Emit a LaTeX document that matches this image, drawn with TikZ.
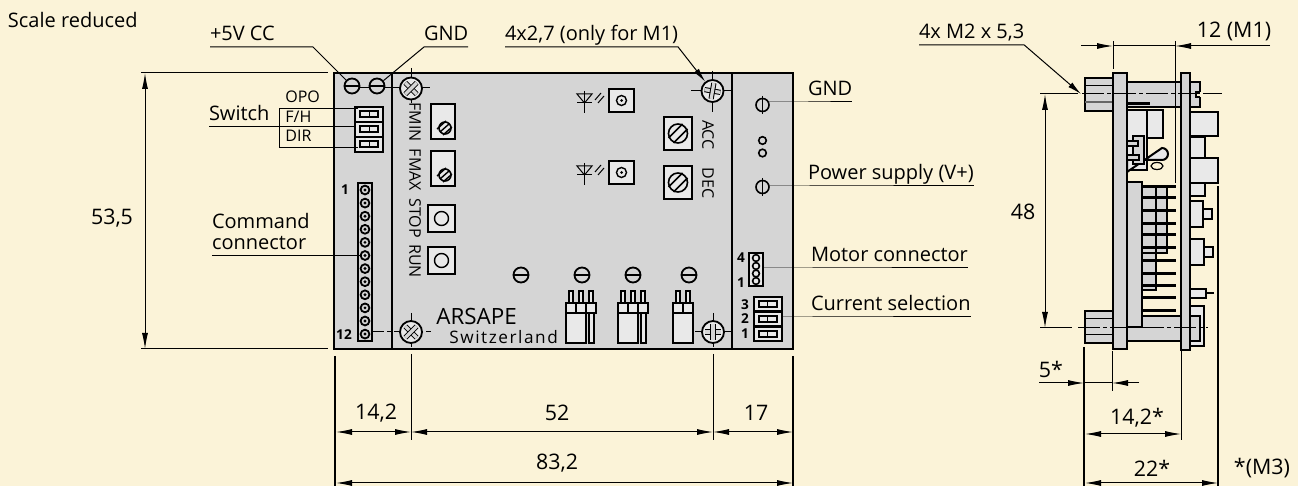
\documentclass[tikz,border=0pt]{standalone}
\usepackage{fontspec}
\setmainfont{Open Sans}
\usepackage{tikz}
\usetikzlibrary{arrows.meta}
\definecolor{paper}{HTML}{FBF3D8}
\definecolor{plate}{HTML}{D5D5D5}
\definecolor{part}{HTML}{E9E9E9}

\begin{document}
\begin{tikzpicture}[
			x=0.5pt, y=-0.5pt,
			outline/.style={draw=black, line width=1pt, line join=miter},
			platepart/.style={outline, fill=plate},
			lightpart/.style={outline, fill=part},
			thinpart/.style={draw=black, line width=0.7pt, fill=part},
			leader/.style={draw=black, line width=0.5pt},
			center/.style={draw=black, line width=0.5pt, dash pattern=on 11pt off 1.5pt on 2pt off 1.5pt},
			dimline/.style={draw=black, line width=0.5pt, {Latex[length=8pt,width=3pt]}-{Latex[length=8pt,width=3pt]}},
			textlabel/.style={inner sep=0pt, outer sep=0pt, anchor=south west, text depth=3pt, font=\fontsize{10}{10.5}\selectfont},
			smalllabel/.style={inner sep=0pt, font=\fontsize{8}{9}\selectfont},
			dimlabel/.style={inner sep=0pt, font=\fontsize{10.7}{12}\selectfont},
			boldlabel/.style={inner sep=0pt, font=\fontsize{6.8}{8}\selectfont\bfseries},
			panellabel/.style={inner sep=0pt, rotate=-90, font=\fontsize{8}{9}\selectfont},
			slotscrew/.style={circle, draw=black, line width=0.9pt, fill=plate, minimum size=7.5pt, inner sep=0pt},
			mountscrew/.style={circle, draw=black, line width=0.9pt, fill=part, minimum size=11pt, inner sep=0pt},
			]
			%Background
				\useasboundingbox (0,0) rectangle (1298,486);
				\fill[paper] (0,0) rectangle (1298,486);

			%Front view: plates
				\path[platepart] (334,73) rectangle (793,349);
				\path[outline] (391.5,73) -- (391.5,349);
				\path[outline] (732,73) -- (732,349);

			%Center lines, front view
				\draw[center] (352,88) -- (430,88);
				\draw[leader] (411,68) -- (411,103);
				\draw[leader] (691,91) -- (733,91);
				\draw[leader] (712.5,71) -- (712.5,112);
				\draw[center] (362,332) -- (431,332);
				\draw[leader] (411,313) -- (411,347);
				\draw[leader] (695,332) -- (733,332);
				\draw[leader] (713,313) -- (713,347);

			%Front view: switch block and connectors
				\foreach \y in {107,122,137}{
					\path[lightpart] (355,\y) rectangle +(28,15);
					\path[thinpart] (360,\y+4) rectangle +(18,6);
					\draw[leader] (369,\y+4) -- +(0,6);
				}
				\path[platepart] (358,183) rectangle (372,341);
				\foreach \n in {0,...,11}{
					\draw[leader, line width=0.9pt] (365,190+\n*13.1) circle [radius=4.4];
					\fill (365,190+\n*13.1) circle [radius=1.6];
				}
				\path[lightpart] (749,253) rectangle (763,286);
				\foreach \y in {258,266,273.5,281}{
					\draw[leader, line width=0.8pt] (756,\y) circle [radius=3.4];
				}
				\foreach \y in {297,312,327}{
					\path[lightpart] (754,\y) rectangle +(28,14.5);
					\path[thinpart] (759,\y+4) rectangle +(18,6);
					\draw[leader] (767,\y+4) -- +(0,6);
				}

			%Front view: trimmers
				\foreach \y in {104,151}{
					\path[lightpart] (431,\y) rectangle +(24,35);
					\filldraw[draw=black, fill=part, line width=0.8pt] (445,\y+24) circle [radius=6];
					\foreach \d in {-3,0,3}{
						\draw[line width=0.7pt] (440+\d,\y+28+\d) -- (449+\d,\y+20+\d);
					}
				}
				\foreach \y in {117,166}{
					\path[lightpart] (664,\y) rectangle +(28,33);
					\filldraw[draw=black, fill=part, line width=0.8pt] (678,\y+16.5) circle [radius=9.5];
					\foreach \d in {-2.5,2.5}{
						\draw[line width=0.8pt] (671+\d,\y+23.5+\d) -- (685+\d,\y+9.5+\d);
					}
				}

			%Front view: push buttons and LEDs
				\foreach \y in {205,247}{
					\path[lightpart] (428,\y) rectangle +(27,27);
					\draw[line width=0.7pt] (441.5,\y+13.5) circle [radius=7];
				}
				\foreach \y in {89,161}{
					\path[lightpart] (609,\y) rectangle +(25,23);
					\draw[line width=0.7pt] (621.5,\y+11.5) circle [radius=5];
					\fill (621.5,\y+11.5) circle [radius=1.5];
					\draw[leader] (577,\y+5) -- (592,\y+5) -- (584.5,\y+14) -- cycle;
					\draw[leader] (577,\y+14) -- (592,\y+14);
					\draw[leader] (584.5,\y+2) -- (584.5,\y+24);
					\draw[leader] (595,\y+11) -- (601,\y+4);
					\draw[leader] (598,\y+14) -- (604,\y+7);
				}

			%Front view: jumpers
				\foreach \x in {566,618}{
					\foreach \s in {3,13,23}{
						\path[thinpart] (\x+\s,291) rectangle +(4,12);
						\path[thinpart] (\x+\s-3,303) rectangle +(10,10);
					}
					\path[lightpart] (\x,313) rectangle +(20,30);
					\path[thinpart] (\x+23,313) rectangle +(5,30);
				}
				\foreach \s in {3,13}{
					\path[thinpart] (673+\s,291) rectangle +(4,12);
					\path[thinpart] (673+\s-3,303) rectangle +(10,10);
				}
				\path[lightpart] (673,313) rectangle +(20,30);

			%Front view: phi symbols
				\draw[line width=0.8pt] (762.5,105) circle [radius=6.5];
				\draw[line width=0.8pt] (762.5,187) circle [radius=6.5];
				\draw[leader] (762.5,96) -- (762.5,114);
				\draw[leader] (762.5,178) -- (762.5,196);
				\draw[line width=0.8pt] (762.5,140.5) circle [radius=3.8];
				\draw[line width=0.8pt] (762.5,153) circle [radius=3.8];

			%Nodes
				\node[textlabel] at (8,34) {Scale reduced};
				\node[textlabel] (vcc-label)	at (210,47)		{+5V CC};
				\node[textlabel] (gnd-label)	at (424,47)		{GND};
				\node[textlabel] (hole-label)	at (505,47)		{4x2,7 (only for M1)};
				\node[textlabel] (switch-label)	at (209,127)	{Switch};
				\node[textlabel, align=left] (cmd-label) at (212,256) {Command\\connector};
				\node[textlabel] (gnd2-label)	at (808,102)	{GND};
				\node[textlabel] (supply-label)	at (808,186)	{Power supply (V+)};
				\node[textlabel] (motor-label)	at (811,268)	{Motor connector};
				\node[textlabel] (select-label)	at (811,317)	{Current selection};
				\node[textlabel] (thread-label)	at (919,45)		{4x M2 x 5,3};

				\node[smalllabel, anchor=west] at (285,97)	{OPO};
				\node[smalllabel, anchor=west] at (285,117)	{F/H};
				\node[smalllabel, anchor=west] at (285,136)	{DIR};

				\node[panellabel] at (415,122)	{FMIN};
				\node[panellabel] at (415,170)	{FMAX};
				\node[panellabel] at (415,218)	{STOP};
				\node[panellabel] at (415,261)	{RUN};
				\node[panellabel] at (708,135)	{ACC};
				\node[panellabel] at (708,183)	{DEC};

				\node[boldlabel] at (345,190)	{1};
				\node[boldlabel] at (344,335)	{12};
				\node[boldlabel] at (741,258)	{4};
				\node[boldlabel] at (741,283)	{1};
				\node[boldlabel] at (745,305)	{3};
				\node[boldlabel] at (745,319)	{2};
				\node[boldlabel] at (745,334)	{1};

				\node[inner sep=0pt, anchor=base west, font=\fontsize{11.2}{12}\selectfont] at (436,325) {ARSAPE};
				\node[inner sep=0pt, anchor=base west, font=\fontsize{8.6}{9}\selectfont\addfontfeature{LetterSpace=9}] at (449,344) {Switzerland};

				\node[dimlabel] at (112,218)	{53,5};
				\node[dimlabel] at (1023,212)	{48};
				\node[dimlabel] at (376,413)	{14,2};
				\node[dimlabel] at (557,413)	{52};
				\node[dimlabel] at (756,413)	{17};
				\node[dimlabel] at (557,463)	{83,2};
				\node[dimlabel] at (1234,31)	{12 (M1)};
				\node[dimlabel] at (1051,369)	{5*};
				\node[dimlabel] at (1137,418)	{14,2*};
				\node[dimlabel] at (1152,468)	{22*};
				\node[dimlabel] at (1262,468)	{*(M3)};

				\foreach \name/\x/\y in {vcc/352/86, gnd/377/86, a/521/275, b/582/275, c/633/275, d/689/275}{
					\node[slotscrew] (\name) at (\x,\y) {};
					\draw[line width=0.8pt] (\name.west) -- (\name.east);
				}
				\node[mountscrew] (screw-tl) at (411,88.5) {};
				\node[mountscrew] (screw-tr) at (712.5,91) {};
				\node[mountscrew] (screw-bl) at (411,332) {};
				\node[mountscrew] (screw-br) at (713,332) {};
				\foreach \name/\a in {screw-tl/45, screw-tr/10, screw-bl/45, screw-br/0}{
					\draw[line width=0.5pt, double=plate, double distance=1.6pt] (\name) ++(\a:8) -- ++(\a+180:16);
					\draw[line width=0.5pt, double=plate, double distance=1.6pt] (\name) ++(\a+90:8) -- ++(\a+270:16);
				}

				\node[inner sep=0pt, minimum size=0pt] (phi-gnd)	at (769,102)	{};
				\node[inner sep=0pt, minimum size=0pt] (phi-power)	at (769,186)	{};
				\coordinate (pin-cmd)		at (362,256);
				\coordinate (pin-switch)	at (355,127);
				\coordinate (pin-motor)		at (763,268);
				\coordinate (pin-select)	at (782,317);
				\coordinate (thread-end)	at (1081,94);

			%Leaders
				\draw[leader] (vcc-label.south west) -- (313,47) -- (vcc);
				\draw[leader] (gnd-label.south east) -- (gnd-label.south west) -- (gnd);
				\draw[leader, -{Latex[length=7pt,width=3pt]}] (hole-label.south west) -- (hole-label.south east) -- (screw-tr);
				\draw[leader] (switch-label.south west) -- (pin-switch);
				\draw[leader] (cmd-label.south west) -- (pin-cmd);
				\draw[leader] (phi-gnd) -- (gnd2-label.south west) -- (gnd2-label.south east);
				\draw[leader] (phi-power) -- (supply-label.south west) -- (supply-label.south east);
				\draw[leader] (pin-motor) -- (motor-label.south west) -- (motor-label.south east);
				\draw[leader] (pin-select) -- (select-label.south west) -- (select-label.south east);
				\draw[leader] (358,109) -- (279,109) -- (279,148) -- (358,148);
				\draw[leader, -{Latex[length=7pt,width=3pt]}] (thread-label.south west) -- (thread-label.south east) -- (thread-end);

			%Side view: body
				\path[lightpart] (1127,110) rectangle (1147,170);
				\path[lightpart] (1147,110) rectangle (1163,138);
				\path[lightpart] (1127,160) -- (1162,160) arc (90:-90:6) -- (1127,172) -- cycle;
				\draw[line width=0.6pt] (1157,166) ellipse [x radius=6, y radius=3.5];
				\path[platepart] (1133,136) rectangle (1144,164);
				\path[thinpart, fill=plate] (1127,141) rectangle (1138,146);
				\path[thinpart, fill=plate] (1127,155) rectangle (1139,160);

				\foreach \y/\w/\h in {112/28/24, 137/15/21, 158/28/25, 183/15/13}{
					\path[lightpart] (1190,\y) rectangle +(\w,\h);
				}
				\path[lightpart] (1190,201) rectangle (1203,227);
				\path[lightpart] (1203,209) rectangle (1212,219);
				\path[lightpart] (1190,239) rectangle (1204,265);
				\path[lightpart] (1204,247) rectangle (1213,257);
				\path[lightpart] (1190,289) rectangle (1206,298);
				\draw[line width=0.8pt] (1206,293) -- (1214,293);
				\path[lightpart] (1190,306) rectangle (1204,346);

			%Side view: heat sink
				\path[platepart] (1142,187) rectangle (1167,253);
				\path[platepart] (1142,253) rectangle (1156,290);
				\draw[outline] (1156,187) -- (1156,253);
				\foreach \y in {187,198,211,224,235,248,261,274,286,298,311,323}{
					\draw[line width=1.5pt] (1142,\y) -- (1176,\y);
				}
				\path[platepart] (1127,182) rectangle (1142,327);

			%Side view: plates and standoffs
				\path[platepart] (1127,82) rectangle (1200,107);
				\fill[paper] (1196,92) rectangle (1201,97);
				\draw[line width=0.8pt] (1200,92) -- (1196,92) -- (1196,97) -- (1200,97);
				\fill (1127,102) rectangle (1150,105.5);
				\path[platepart] (1085,78) rectangle (1113,111);
				\draw[leader] (1085,86) -- (1113,86);
				\draw[line width=0.8pt, draw=black!60] (1085,102) -- (1113,102);
				\path[platepart] (1142,316) -- (1181,316) -- (1181,341) -- (1127,341) -- (1127,327) -- (1142,327) -- cycle;
				\path[platepart] (1190,316) -- (1200,316) -- (1200,341) -- (1190,341) -- cycle;
				\path[platepart] (1085,311) rectangle (1113,343);
				\draw[leader] (1085,319) -- (1113,319);
				\draw[leader] (1085,335) -- (1113,335);
				\path[platepart] (1113,73) rectangle (1127,349);
				\path[platepart] (1181,73) rectangle (1190,350);

			%Center lines, side view
				\draw[leader] (1040,94) -- (1078,94);
				\draw[center] (1082,94) -- (1200,94);
				\draw[leader] (1203,94) -- (1222,94);
				\draw[leader] (1040,328) -- (1072,328);
				\draw[center] (1078,328) -- (1208,328);

			%Dimensions
				\draw[leader] (141,73) -- (328,73);
				\draw[leader] (141,349) -- (328,349);
				\draw[dimline] (145,73) -- (145,349);
				\draw[leader, line width=0.7pt] (335,356) -- (335,486);
				\draw[leader] (411,354) -- (411,440);
				\draw[leader] (713,354) -- (713,440);
				\draw[leader, line width=0.7pt] (793,356) -- (793,486);
				\draw[dimline] (336,432) -- (411,432);
				\draw[dimline] (411,432) -- (713,432);
				\draw[dimline] (713,432) -- (793,432);
				\draw[dimline] (336,483) -- (793,483);
				\draw[dimline] (1045,94) -- (1045,328);

				\draw[leader] (1113,41) -- (1113,69);
				\draw[leader] (1175,41) -- (1175,183);
				\draw[leader, -{Latex[length=8pt,width=3pt]}] (1081,46) -- (1113,46);
				\draw[leader, -{Latex[length=8pt,width=3pt]}] (1270,46) -- (1175,46);
				\draw[leader] (1113,46) -- (1175,46);

				\draw[leader, line width=0.7pt] (1084,347) -- (1084,486);
				\draw[leader] (1112,351) -- (1112,391);
				\draw[leader] (1181,350) -- (1181,440);
				\draw[leader, line width=0.7pt] (1218,186) -- (1218,486);
				\draw[leader, -{Latex[length=8pt,width=3pt]}] (1039,383) -- (1084,383);
				\draw[leader, -{Latex[length=8pt,width=3pt]}] (1139,383) -- (1112,383);
				\draw[leader] (1084,383) -- (1112,383);
				\draw[dimline] (1085,434) -- (1181,434);
				\draw[dimline] (1085,483) -- (1218,483);
		\end{tikzpicture}
\end{document}
